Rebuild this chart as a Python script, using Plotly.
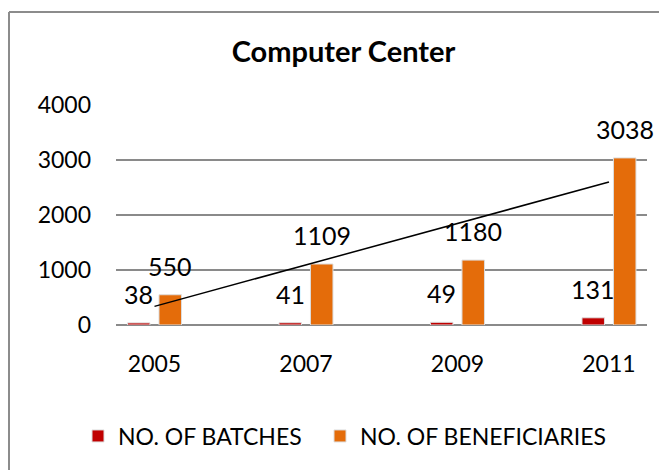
import numpy as np
import plotly.graph_objects as go

years = ["2005", "2007", "2009", "2011"]
batches = [38, 41, 49, 131]
beneficiaries = [550, 1109, 1180, 3038]
series_names = ["NO. OF BATCHES", "NO. OF BENEFICIARIES"]
series_colors = ["#C00000", "#E46C0A"]
y_ticks = [0, 1000, 2000, 3000, 4000]

# the page body adds an 8px margin; target positions are in window pixels
OFF = 8
W, H = 667 - OFF, 470 - OFF
PLOT_L, PLOT_R, PLOT_T, PLOT_B = 116, 647, 105, 325  # window px
ML, MR = PLOT_L - OFF, W - (PLOT_R - OFF)
MT, MB = PLOT_T - OFF, H - (PLOT_B - OFF)
PW, PH = PLOT_R - PLOT_L, PLOT_B - PLOT_T
FONT = "Lato"

BARGAP = 0.584
BARGROUPGAP = 0.286


def px_to_paper_x(px):
    return (px - PLOT_L) / PW


def px_to_paper_y(py):
    return (PLOT_B - py) / PH


fig = go.Figure()
legend_ids = ["legend", "legend2"]
for name, vals, col, lg in zip(series_names, [batches, beneficiaries], series_colors, legend_ids):
    fig.add_trace(go.Bar(
        x=years, y=vals, name=name, legend=lg,
        marker=dict(color=col, line=dict(color="#dddddd", width=1)),
    ))

# linear trendline of beneficiaries
idx = np.arange(len(years))
slope, intercept = np.polyfit(idx, beneficiaries, 1)
trend = slope * idx + intercept
fig.add_trace(go.Scatter(
    x=years, y=trend, mode="lines", line=dict(color="black", width=1.5),
    showlegend=False, hoverinfo="skip",
))

# data labels
slot = (1 - BARGAP) / 2
annotations = []
for si, vals in enumerate([batches, beneficiaries]):
    for j, v in enumerate(vals):
        annotations.append(dict(
            x=j + (si - 0.5) * slot, y=v, xref="x", yref="y",
            text=str(v), showarrow=False, yanchor="middle", yshift=29,
            font=dict(family=FONT, size=25, color="black"),
        ))

shapes = [
    dict(type="line", xref="paper", yref="paper",
         x0=px_to_paper_x(9), x1=px_to_paper_x(680),
         y0=px_to_paper_y(12), y1=px_to_paper_y(12),
         line=dict(color="#8c8c8c", width=2)),
    dict(type="line", xref="paper", yref="paper",
         x0=px_to_paper_x(9), x1=px_to_paper_x(9),
         y0=px_to_paper_y(12), y1=px_to_paper_y(480),
         line=dict(color="#8c8c8c", width=2)),
]

legend_common = dict(orientation="h", xanchor="left", yanchor="middle",
                     y=px_to_paper_y(436),
                     font=dict(family=FONT, size=23, color="black"),
                     bgcolor="rgba(0,0,0,0)")

fig.update_layout(
    width=W, height=H, autosize=False,
    margin=dict(l=ML, r=MR, t=MT, b=MB, pad=0),
    paper_bgcolor="white", plot_bgcolor="white",
    barmode="group", bargap=BARGAP, bargroupgap=BARGROUPGAP,
    font=dict(family=FONT, color="black"),
    title=dict(text="<b>Computer Center</b>", x=(343.5 - OFF) / W, xanchor="center",
               y=1 - (52 - OFF) / H, yanchor="middle", xref="container", yref="container",
               font=dict(family=FONT, size=29, color="black")),
    xaxis=dict(type="category", range=[-0.254, 3.251], showgrid=False,
               showline=False, ticks="", tickfont=dict(family=FONT, size=23, color="black"),
               ticklabelstandoff=23, fixedrange=True),
    yaxis=dict(range=[0, 4000], tickvals=y_ticks, showgrid=True, gridcolor="#8a8a8a",
               gridwidth=1.5, zeroline=True, zerolinecolor="#8a8a8a", zerolinewidth=1.5,
               showline=False, ticks="", tickfont=dict(family=FONT, size=23, color="black"),
               ticklabelstandoff=24, fixedrange=True),
    legend=dict(x=px_to_paper_x(78), **legend_common),
    legend2=dict(x=px_to_paper_x(320), **legend_common),
    annotations=annotations,
    shapes=shapes,
    showlegend=True,
)

fig.write_html("out.html")
